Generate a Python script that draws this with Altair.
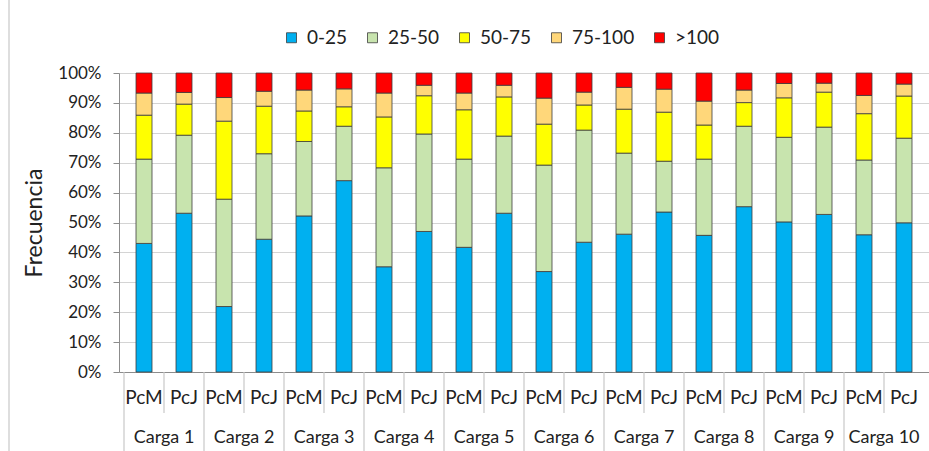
import altair as alt
import pandas as pd

cargas = ["Carga 1", "Carga 2", "Carga 3", "Carga 4", "Carga 5",
          "Carga 6", "Carga 7", "Carga 8", "Carga 9", "Carga 10"]
tipos = ["PcM", "PcJ"]
rangos = ["0-25", "25-50", "50-75", "75-100", ">100"]

# percentages per bar, order: C1 PcM, C1 PcJ, C2 PcM, ...
v_0_25 = [43.0, 53.1, 21.9, 44.4, 52.2, 64.0, 35.2, 47.0, 41.7, 53.1,
          33.6, 43.4, 46.1, 53.5, 45.7, 55.3, 50.2, 52.7, 45.9, 49.9]
v_25_50 = [28.2, 26.1, 35.9, 28.6, 24.9, 18.2, 33.1, 32.6, 29.5, 25.8,
           35.6, 37.5, 27.1, 17.0, 25.5, 26.9, 28.3, 29.2, 25.0, 28.3]
v_50_75 = [14.7, 10.4, 26.1, 15.9, 10.2, 6.5, 17.0, 12.8, 16.5, 13.1,
           13.7, 8.4, 14.7, 16.4, 11.4, 7.9, 13.2, 11.7, 15.5, 14.1]
v_75_100 = [7.4, 3.9, 7.9, 5.0, 7.0, 6.0, 8.0, 3.5, 5.6, 3.9,
            8.7, 4.3, 7.3, 7.7, 8.0, 4.2, 4.8, 3.0, 6.1, 4.0]
v_100 = [6.7, 6.5, 8.2, 6.1, 5.7, 5.3, 6.7, 4.1, 6.7, 4.1,
         8.4, 6.4, 4.8, 5.4, 9.4, 5.7, 3.5, 3.4, 7.5, 3.7]

colores = ["#00b0f0", "#c8e4ae", "#ffff00", "#ffd77a", "#ff0000"]

series = [v_0_25, v_25_50, v_50_75, v_75_100, v_100]
rows = []
for gi, carga in enumerate(cargas):
    for ti, tipo in enumerate(tipos):
        idx = gi * 2 + ti
        for ri, rango in enumerate(rangos):
            rows.append({"pos": idx + 0.5, "carga": carga, "tipo": tipo,
                         "rango": rango, "orden": ri, "valor": series[ri][idx]})
df = pd.DataFrame(rows)

labels_tipo = pd.DataFrame([{"pos": gi * 2 + ti + 0.5, "tipo": t}
                            for gi in range(len(cargas)) for ti, t in enumerate(tipos)])
labels_carga = pd.DataFrame([{"pos": gi * 2 + 1, "carga": c} for gi, c in enumerate(cargas)])
sep_small = pd.DataFrame({"pos": [gi * 2 + 1 for gi in range(len(cargas))]})
sep_big = pd.DataFrame({"pos": [gi * 2 for gi in range(len(cargas))]})

W, H = 810, 299
FONT = "Lato"
xscale = alt.Scale(domain=[0, 20], nice=False, zero=False)

bars = alt.Chart(df).mark_bar(size=16, stroke="#3c3c3c", strokeWidth=0.8).encode(
    x=alt.X("pos:Q", scale=xscale,
            axis=alt.Axis(labels=False, ticks=False, grid=False, title=None,
                          domainColor="#8c8c8c", domainWidth=1)),
    y=alt.Y("valor:Q", stack="normalize",
            scale=alt.Scale(domain=[0, 1]),
            axis=alt.Axis(format="%", values=[i / 10 for i in range(11)],
                          title="Frecuencia", titleFontSize=23, titleFont=FONT,
                          titleFontWeight="normal", titleColor="#222",
                          titlePadding=11,
                          labelFont=FONT, labelFontSize=17, labelColor="#222",
                          labelPadding=12, tickSize=6, tickColor="#8c8c8c",
                          domainColor="#8c8c8c", gridColor="#d4d4d4", gridWidth=1.2)),
    color=alt.Color("rango:N", scale=alt.Scale(domain=rangos, range=colores),
                    legend=alt.Legend(orient="none", direction="horizontal",
                                      legendX=163, legendY=-45, title=None,
                                      symbolType="square", symbolSize=100,
                                      symbolStrokeColor="#3c3c3c", symbolStrokeWidth=0.8,
                                      labelFont=FONT, labelFontSize=19, labelColor="#222",
                                      labelOffset=6, columnPadding=15, padding=0)),
    order=alt.Order("orden:Q", sort="ascending"),
)

txt_tipo = alt.Chart(labels_tipo).mark_text(font=FONT, fontSize=19, color="#222",
                                            baseline="middle").encode(
    x=alt.X("pos:Q", scale=xscale), y=alt.value(H + 26), text="tipo:N")
txt_carga = alt.Chart(labels_carga).mark_text(font=FONT, fontSize=18, color="#222",
                                              baseline="middle").encode(
    x=alt.X("pos:Q", scale=xscale), y=alt.value(H + 66), text="carga:N")
rule_small = alt.Chart(sep_small).mark_rule(color="#c8c8c8", strokeWidth=1.2).encode(
    x=alt.X("pos:Q", scale=xscale), y=alt.value(H), y2=alt.value(H + 41))
rule_big = alt.Chart(sep_big).mark_rule(color="#c8c8c8", strokeWidth=1.2).encode(
    x=alt.X("pos:Q", scale=xscale), y=alt.value(H), y2=alt.value(H + 80))
frame = alt.Chart(sep_big.head(1)).mark_rule(color="#bdbdbd", strokeWidth=1).encode(
    x=alt.value(-110), y=alt.value(-73), y2=alt.value(H + 80))

chart = alt.layer(rule_small, rule_big, frame, bars, txt_tipo, txt_carga).properties(
    width=W, height=H,
    autosize=alt.AutoSizeParams(type="none"),
    padding={"left": 119, "top": 73, "right": 0, "bottom": 79},
    background="white",
).configure_view(strokeWidth=0)

chart.save("out.html", embed_options={"renderer": "svg", "actions": False})
